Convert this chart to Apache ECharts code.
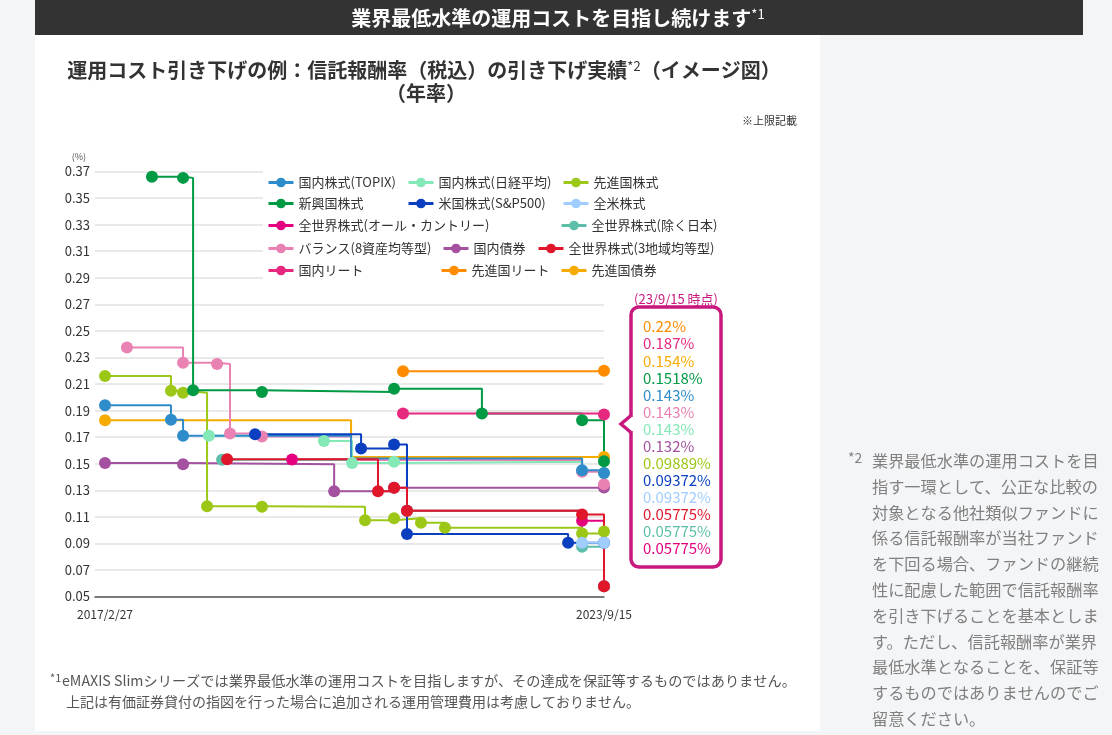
<!DOCTYPE html>
<html><head><meta charset="utf-8">
<script src="https://cdn.jsdelivr.net/npm/echarts@6/dist/echarts.min.js"></script>
<style>html,body{margin:0;padding:0;background:#f4f5f7;}#c{width:1112px;height:735px;}</style>
</head><body><div id="c"></div>
<script>
// ---------------- data ----------------
const dTopix = [['2017-02-27',0.194],['2018-01-09',0.183],['2018-03-08',0.171],['2020-05-21',0.154],['2023-06-02',0.145],['2023-09-15',0.143]];
const dNikkei = [['2018-07-10',0.171],['2020-01-12',0.167],['2020-05-26',0.1506],['2020-12-13',0.1515],['2023-06-02',0.1445],['2023-09-15',0.143]];
const dSenshin = [['2017-02-27',0.216],['2018-01-09',0.205],['2018-03-08',0.2035],['2018-07-01',0.118],['2019-03-21',0.1175],['2020-07-27',0.1075],['2020-12-13',0.109],['2021-04-21',0.1055],['2021-08-14',0.1017],['2023-06-02',0.0975],['2023-09-15',0.09889]];
const dShinko = [['2017-10-10',0.366],['2018-03-08',0.3652],['2018-04-25',0.2053],['2019-03-21',0.204],['2020-12-13',0.2065],['2022-02-07',0.1877],['2023-06-02',0.1827],['2023-09-15',0.1518]];
const dSP500 = [['2019-02-16',0.1722],['2020-07-08',0.1614],['2020-12-13',0.1644],['2021-02-13',0.097],['2023-03-27',0.0905],['2023-09-15',0.0905]];
const dZenbei = [['2023-06-02',0.0905],['2023-09-15',0.0905]];
const dAllCountry = [['2019-08-12',0.1532],['2021-02-13',0.1145],['2023-06-02',0.107],['2023-09-15',0.05775]];
const dExJapan = [['2018-09-11',0.153],['2021-02-13',0.1145],['2023-06-02',0.0875],['2023-09-15',0.05775]];
const dBalance = [['2017-06-12',0.2374],['2018-03-08',0.226],['2018-08-18',0.225],['2018-10-19',0.1727],['2019-03-21',0.1705],['2020-05-21',0.1527],['2023-06-02',0.144],['2023-09-15',0.1345]];
const dBond = [['2017-02-27',0.1506],['2018-03-08',0.1496],['2020-03-01',0.1293],['2020-12-13',0.1318],['2023-09-15',0.132]];
const d3Region = [['2018-10-05',0.1534],['2020-09-27',0.1293],['2020-12-13',0.1318],['2021-02-13',0.1145],['2023-06-02',0.1118],['2023-09-15',0.05775]];
const dJReit = [['2021-01-25',0.1877],['2023-09-15',0.187]];
const dGReit = [['2021-01-25',0.2196],['2023-09-15',0.22]];
const dGBond = [['2017-02-27',0.1827],['2020-05-21',0.155],['2023-09-15',0.155]];

const yTicks = {min:0.05, max:0.37, step:0.02};
const xRange = ['2017-01-10','2023-09-15'];
const xTickDates = ['2017-02-27','2023-09-15'];

const endLabels = ['0.22%','0.187%','0.154%','0.1518%','0.143%','0.143%','0.143%','0.132%','0.09889%','0.09372%','0.09372%','0.05775%','0.05775%','0.05775%'];
const endLabelSeries = ['先進国リート','国内リート','先進国債券','新興国株式','国内株式(TOPIX)','バランス(8資産均等型)','国内株式(日経平均)','国内債券','先進国株式','米国株式(S&P500)','全米株式','全世界株式(3地域均等型)','全世界株式(除く日本)','全世界株式(オール・カントリー)'];

const note2Lines = ['業界最低水準の運用コストを目','指す一環として、公正な比較の','対象となる他社類似ファンドに','係る信託報酬率が当社ファンド','を下回る場合、ファンドの継続','性に配慮した範囲で信託報酬率','を引き下げることを基本としま','す。ただし、信託報酬率が業界','最低水準となることを、保証等','するものではありませんのでご','留意ください。'];
const note1Lines = ['eMAXIS Slimシリーズでは業界最低水準の運用コストを目指しますが、その達成を保証等するものではありません。','上記は有価証券貸付の指図を行った場合に追加される運用管理費用は考慮しておりません。'];

// ---------------- mapping / styles ----------------
const seriesData = {
  '国内株式(TOPIX)': dTopix, '国内株式(日経平均)': dNikkei, '先進国株式': dSenshin,
  '新興国株式': dShinko, '米国株式(S&P500)': dSP500, '全米株式': dZenbei,
  '全世界株式(オール・カントリー)': dAllCountry, '全世界株式(除く日本)': dExJapan,
  'バランス(8資産均等型)': dBalance, '国内債券': dBond, '全世界株式(3地域均等型)': d3Region,
  '国内リート': dJReit, '先進国リート': dGReit, '先進国債券': dGBond
};
const colors = {
  '国内株式(TOPIX)':'#2f8ccb','国内株式(日経平均)':'#84e8b7','先進国株式':'#9cc716',
  '新興国株式':'#009944','米国株式(S&P500)':'#0a3fbf','全米株式':'#9fcdff',
  '全世界株式(オール・カントリー)':'#e4007f','全世界株式(除く日本)':'#5dbfa9',
  'バランス(8資産均等型)':'#e982b2','国内債券':'#a4519f','全世界株式(3地域均等型)':'#e0162b',
  '国内リート':'#e6287f','先進国リート':'#ff8c00','先進国債券':'#f6ab00'
};
const hiddenDots = {'先進国債券':[1],'国内株式(TOPIX)':[3],'バランス(8資産均等型)':[5]};
const drawOrder = ['先進国債券','国内債券','国内株式(日経平均)','全世界株式(オール・カントリー)','全世界株式(除く日本)','バランス(8資産均等型)','国内株式(TOPIX)','先進国株式','米国株式(S&P500)','全米株式','全世界株式(3地域均等型)','新興国株式','国内リート','先進国リート'];
const legendLayout = [
  ['国内株式(TOPIX)',267,184],['国内株式(日経平均)',407,184],['先進国株式',562,184],
  ['新興国株式',267,205],['米国株式(S&P500)',407,205],['全米株式',562,205],
  ['全世界株式(オール・カントリー)',267,227],['全世界株式(除く日本)',560,227],
  ['バランス(8資産均等型)',267,250],['国内債券',442,250],['全世界株式(3地域均等型)',537,250],
  ['国内リート',267,272],['先進国リート',440,272],['先進国債券',560,272]
];

const FONT = '"Noto Sans CJK JP", "Noto Sans", sans-serif';
const t = s => Date.parse(s);
const fmtDate = v => { const d = new Date(v); return d.getUTCFullYear()+'/'+(d.getUTCMonth()+1)+'/'+d.getUTCDate(); };
const BOX = '#c8197e';

const graphics = [
  {type:'rect', z:-100, shape:{x:35,y:35,width:785,height:696}, style:{fill:'#ffffff'}},
  {type:'rect', z:-100, shape:{x:35,y:0,width:1048,height:35}, style:{fill:'#333333'}},
  {type:'text', z:10, x:558, y:18, style:{text:'{a|業界最低水準の運用コストを目指し続けます}{s|*1}', align:'center', verticalAlign:'middle',
    rich:{a:{fontSize:20,fontWeight:'bold',fill:'#fff',fontFamily:FONT}, s:{fontSize:13,fill:'#fff',verticalAlign:'top',fontFamily:FONT}}}},
  {type:'text', z:10, x:424, y:70, style:{text:'{a|運用コスト引き下げの例：信託報酬率（税込）の引き下げ実績}{s|*2}{a|（イメージ図）}', align:'center', verticalAlign:'middle',
    rich:{a:{fontSize:20,fontWeight:'bold',fill:'#333',fontFamily:FONT}, s:{fontSize:13,fill:'#333',verticalAlign:'top',fontFamily:FONT}}}},
  {type:'text', z:10, x:426, y:93, style:{text:'（年率）', align:'center', verticalAlign:'middle', fontSize:20, fontWeight:'bold', fill:'#333', fontFamily:FONT}},
  {type:'text', z:10, x:797, y:121, style:{text:'※上限記載', align:'right', verticalAlign:'middle', fontSize:11, fill:'#333', fontFamily:FONT}},
  {type:'rect', z:1, shape:{x:263,y:167,width:345,height:114}, style:{fill:'#ffffff'}},
  {type:'rect', z:5, shape:{x:631,y:307,width:90,height:260,r:8}, style:{fill:'#ffffff', stroke:BOX, lineWidth:3.5}},
  {type:'rect', z:6, shape:{x:628,y:417,width:6,height:14}, style:{fill:'#ffffff'}},
  {type:'polygon', z:6, shape:{points:[[632,416],[622,424],[632,432]]}, style:{fill:'#ffffff'}},
  {type:'polyline', z:7, shape:{points:[[631,415.5],[621,424],[631,432.5]]}, style:{stroke:BOX, lineWidth:3.5, fill:null}},
  {type:'text', z:10, x:676, y:299, style:{text:'(23/9/15 時点)', align:'center', verticalAlign:'middle', fontSize:13, fill:BOX, fontFamily:FONT}},
  {type:'text', z:10, x:848, y:458, style:{text:'*2', align:'left', verticalAlign:'middle', fontSize:14, fill:'#808080', fontFamily:FONT}},
  {type:'text', z:10, x:872, y:448, style:{text:note2Lines.join('\n'), align:'left', verticalAlign:'top', fontSize:16.2, lineHeight:25.8, fill:'#808080', fontFamily:FONT}},
  {type:'text', z:10, x:50, y:678, style:{text:'*1', align:'left', verticalAlign:'middle', fontSize:11, fill:'#555', fontFamily:FONT}},
  {type:'text', z:10, x:62, y:681, style:{text:note1Lines[0], align:'left', verticalAlign:'middle', fontSize:14.2, fill:'#555', fontFamily:FONT}},
  {type:'text', z:10, x:66, y:702, style:{text:note1Lines[1], align:'left', verticalAlign:'middle', fontSize:14, fill:'#555', fontFamily:FONT}}
];
endLabels.forEach((lab, i) => {
  graphics.push({type:'text', z:10, x:643, y:326.7 + i*17.05, style:{text:lab, align:'left', verticalAlign:'middle', fontSize:15, fill:colors[endLabelSeries[i]], fontFamily:FONT}});
});

const option = {
  backgroundColor:'#f4f5f7',
  animation:false,
  textStyle:{fontFamily:FONT},
  grid:{left:95, right:508, top:171.5, bottom:138.5},
  xAxis:{type:'value', min:t(xRange[0]), max:t(xRange[1]),
    axisLine:{show:true, onZero:false, lineStyle:{color:'#555', width:1.5}},
    axisTick:{show:false}, splitLine:{show:false},
    axisLabel:{customValues:xTickDates.map(t), formatter:fmtDate, color:'#333', fontSize:12, margin:12}},
  yAxis:{type:'value', min:yTicks.min, max:yTicks.max, interval:yTicks.step,
    name:'(%)', nameLocation:'end', nameGap:10, nameTextStyle:{fontSize:9, color:'#555', align:'right', padding:[0,9,0,0]},
    axisLine:{show:false}, axisTick:{show:false},
    splitLine:{lineStyle:{color:'#e2e2e2', width:1.5}},
    axisLabel:{formatter:v => v.toFixed(2), color:'#333', fontSize:13, margin:5}},
  legend: legendLayout.map(([name,x,y]) => ({data:[name], left:x, top:y-8, padding:0, itemWidth:25, itemHeight:12, selectedMode:false,
    lineStyle:{width:3},
    textStyle:{fontSize:13, color:'#333', fontFamily:FONT}})),
  graphic:{elements:graphics},
  series: drawOrder.map(name => ({
    name, type:'line', step:'end', clip:false,
    data: seriesData[name].map(([d,v]) => [t(d), v]),
    symbol:'circle', showAllSymbol:true,
    symbolSize:(val, p) => (hiddenDots[name] && hiddenDots[name].includes(p.dataIndex)) ? 0 : 12,
    lineStyle:{width:2, color:colors[name]}, itemStyle:{color:colors[name]},
    emphasis:{disabled:true}
  }))
};
const chart = echarts.init(document.getElementById('c'));
chart.setOption(option);
</script></body></html>
